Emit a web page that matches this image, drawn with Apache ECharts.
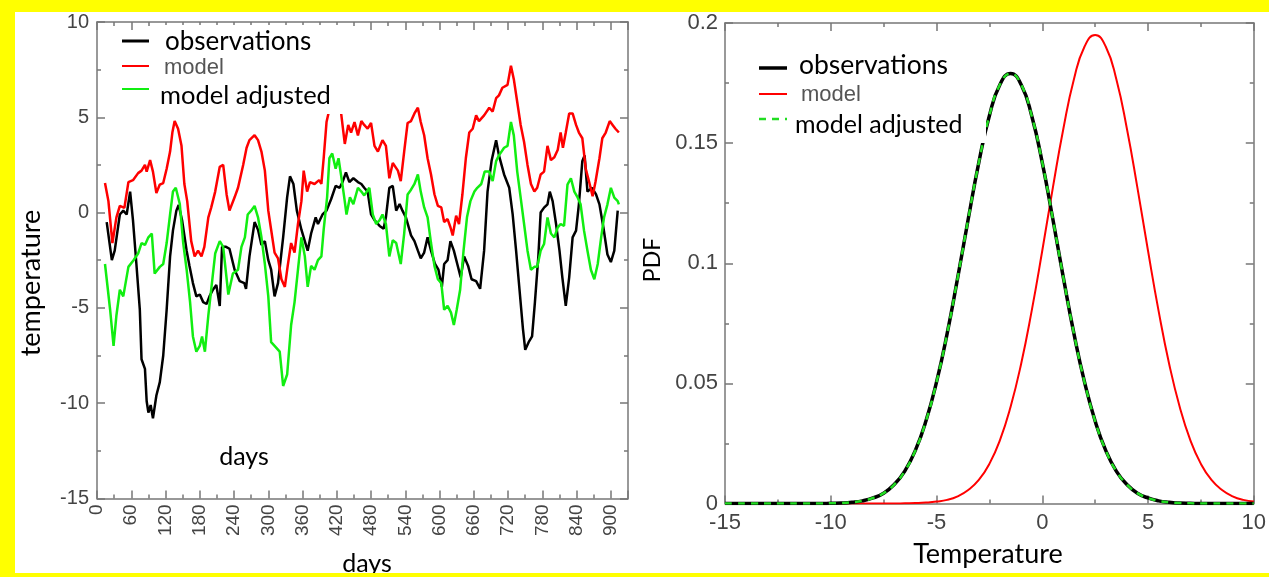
<!DOCTYPE html>
<html>
<head>
<meta charset="utf-8">
<script src="https://cdn.jsdelivr.net/npm/echarts@6/dist/echarts.min.js"></script>
<style>
  html, body { margin: 0; padding: 0; background: #ffff00; }
  #main { position: absolute; left: 15px; top: 12px; width: 1254px; height: 561px; background: #fff; }
</style>
</head>
<body>
<div id="main"></div>
<script>
// left panel: daily temperature, [day, value]
var obsPoints = [[17,-0.5],[26,-2.5],[31,-2.0],[40,-0.1],[46,0.1],[52,-0.1],[58,1.1],[63,-0.4],[69,-2.7],[75,-5.1],[78,-7.7],[84,-8.2],[87,-9.9],[90,-10.5],[94,-10.1],[98,-10.8],[104,-9.6],[110,-8.9],[116,-7.5],[122,-5.1],[128,-2.3],[133,-0.95],[139,0.1],[143,0.4],[149,-0.4],[157,-2.0],[162,-2.8],[168,-3.7],[174,-4.4],[180,-4.3],[186,-4.7],[192,-4.8],[197,-4.4],[203,-4.05],[209,-3.8],[215,-4.9],[219,-1.8],[226,-1.8],[232,-1.9],[241,-3.0],[250,-3.6],[258,-3.7],[261,-4.0],[267,-2.3],[276,-0.5],[282,-0.9],[288,-1.7],[294,-1.5],[300,-2.5],[305,-3.0],[311,-4.4],[317,-3.7],[326,-1.3],[333,0.8],[338,1.9],[344,1.5],[350,0.1],[358,-0.9],[365,-1.6],[369,-2.0],[375,-1.1],[383,-0.25],[387,-0.6],[395,-0.1],[402,0.1],[410,0.7],[418,1.4],[425,1.3],[430,1.6],[436,2.1],[442,1.6],[449,1.8],[457,1.6],[463,1.5],[468,1.3],[474,1.1],[480,-0.1],[486,-0.4],[495,-0.7],[502,-0.85],[506,-0.25],[512,1.3],[518,1.4],[524,0.1],[530,0.45],[535,0.1],[541,-0.25],[550,-1.2],[556,-1.5],[562,-2.0],[567,-2.4],[573,-2.1],[579,-1.3],[585,-2.0],[592,-2.7],[598,-3.0],[604,-3.9],[608,-2.7],[614,-2.5],[619,-1.5],[625,-2.0],[631,-2.7],[637,-3.4],[643,-2.3],[650,-2.8],[656,-3.5],[664,-3.6],[671,-4.0],[678,-2.0],[684,1.1],[691,2.7],[699,3.8],[704,3.0],[713,2.0],[722,1.3],[728,-0.1],[734,-2.0],[740,-4.05],[746,-6.1],[750,-7.2],[756,-6.8],[762,-6.5],[767,-4.7],[773,-2.3],[777,0],[783,0.26],[789,0.43],[793,1.1],[798,0.6],[804,-0.6],[810,-2.0],[815,-3.4],[821,-4.9],[827,-3.4],[833,-1.3],[839,-0.95],[844,0.43],[850,2.7],[854,3.0],[859,1.1],[867,1.3],[874,0.95],[880,0.43],[887,-0.8],[894,-2.2],[900,-2.6],[906,-2.0],[912,0.1]];

var modelPoints = [[14,1.55],[20,0.6],[27,-1.6],[34,-0.25],[40,0.35],[48,0.25],[55,1.6],[63,1.7],[72,2.07],[78,2.2],[84,2.5],[87,2.15],[93,2.75],[98,2.15],[104,1.03],[110,1.47],[116,1.55],[122,2.3],[128,3.2],[132,4.2],[136,4.8],[142,4.4],[148,3.5],[153,1.5],[158,0.6],[165,-1.5],[171,-2.3],[177,-2.0],[183,-2.3],[188,-1.8],[195,-0.25],[200,0.26],[207,1.1],[215,2.4],[221,2.5],[227,0.95],[232,0.1],[241,0.8],[247,1.3],[256,2.5],[262,3.4],[267,3.8],[276,4.06],[282,3.8],[288,3.2],[294,2.2],[300,0.1],[305,-0.9],[311,-2.1],[317,-2.4],[323,-3.5],[329,-3.9],[334,-2.8],[340,-1.6],[346,-2.1],[352,-0.6],[358,0.6],[362,2.2],[368,1.1],[373,1.6],[381,1.5],[389,1.7],[393,1.5],[397,2.85],[402,4.75],[410,5.8],[418,6.3],[426,5.6],[434,3.6],[440,4.6],[445,4.2],[451,4.75],[457,4.05],[463,4.8],[468,4.6],[474,4.4],[480,4.7],[486,3.5],[492,3.2],[500,3.8],[506,3.5],[512,1.8],[518,2.6],[527,2.2],[532,1.65],[538,3.2],[544,4.7],[550,4.8],[556,5.2],[562,5.5],[567,4.75],[573,4.06],[579,2.85],[585,2.0],[591,0.96],[597,0.35],[603,0.27],[608,-0.5],[614,-0.34],[619,-0.77],[623,-1.2],[629,-0.16],[634,-0.6],[640,0.96],[646,2.85],[652,4.2],[658,4.4],[664,5.1],[669,4.8],[678,5.1],[687,5.5],[693,5.3],[699,6.0],[704,6.15],[710,6.55],[719,6.7],[725,7.7],[730,7.0],[736,5.8],[742,4.6],[748,3.7],[754,2.5],[760,1.5],[766,1.1],[771,1.3],[777,2.0],[783,2.15],[789,3.5],[795,2.75],[801,2.9],[807,3.3],[812,4.2],[816,3.4],[821,4.2],[827,5.2],[833,5.2],[839,4.6],[844,4.2],[850,3.9],[856,2.3],[862,1.6],[868,0.86],[873,1.6],[880,2.85],[885,3.9],[891,4.2],[898,4.8],[903,4.6],[908,4.4],[914,4.2]];

var adjPoints = [[14,-2.7],[23,-5.1],[29,-7.0],[34,-5.4],[40,-4.05],[46,-4.4],[55,-2.85],[64,-2.5],[72,-2.15],[78,-1.6],[84,-1.7],[90,-1.3],[96,-1.1],[101,-3.2],[110,-2.85],[116,-2.7],[122,-1.6],[128,-0.1],[133,1.1],[138,1.3],[145,0.45],[151,-1.6],[157,-3.0],[163,-4.7],[168,-6.5],[174,-7.3],[180,-7.0],[184,-6.5],[189,-7.3],[195,-5.4],[200,-4.05],[207,-2.15],[215,-1.5],[221,-1.8],[230,-4.3],[238,-3.2],[247,-3.0],[253,-1.8],[259,-1.3],[264,-0.1],[270,0.1],[276,0.35],[282,-0.25],[288,-1.3],[294,-2.7],[300,-4.4],[305,-6.8],[311,-7.0],[320,-7.3],[326,-9.1],[333,-8.5],[340,-5.9],[346,-4.7],[352,-3.0],[358,-1.3],[364,-2.3],[369,-3.9],[375,-2.8],[381,-3.0],[387,-2.5],[393,-2.3],[397,-0.9],[403,0.8],[407,2.85],[412,3.1],[418,2.3],[423,2.85],[429,1.65],[433,0.8],[437,-0.1],[443,0.8],[449,0.44],[457,1.3],[463,1.1],[468,0.9],[477,1.3],[483,-0.1],[489,-0.6],[495,-0.4],[500,-0.1],[506,-0.6],[512,-2.3],[518,-1.45],[524,-1.6],[532,-2.7],[538,-1.1],[544,0.95],[550,1.2],[556,1.5],[562,2.0],[567,1.1],[573,0.27],[579,-0.25],[585,-1.6],[591,-2.8],[597,-3.5],[603,-3.7],[608,-5.1],[614,-4.9],[620,-5.25],[625,-5.9],[630,-5.1],[636,-4.05],[642,-2.0],[648,-0.25],[654,0.6],[661,1.1],[666,1.3],[673,1.5],[679,2.15],[687,2.15],[693,1.65],[699,2.7],[704,3.0],[713,3.4],[719,3.5],[725,4.75],[730,4.05],[736,2.15],[742,0.78],[748,-0.6],[754,-2.0],[760,-3.0],[766,-2.85],[771,-2.85],[777,-2.0],[783,-1.65],[789,-0.26],[795,-1.1],[801,-1.3],[807,-0.78],[812,-0.6],[818,-0.7],[824,1.47],[830,1.8],[836,1.1],[842,0.78],[847,0.43],[853,-0.95],[859,-2.0],[865,-3.0],[871,-3.5],[877,-2.7],[883,-1.3],[888,-0.26],[894,0.43],[900,1.3],[906,0.78],[912,0.6],[914,0.43]];

// right panel: PDF read every 0.5 degree
var pdfTemp = [-15,-14.5,-14,-13.5,-13,-12.5,-12,-11.5,-11,-10.5,-10,-9.5,-9,-8.5,-8,-7.5,-7,-6.5,-6,-5.5,-5,-4.5,-4,-3.5,-3,-2.5,-2,-1.5,-1,-0.5,0,0.5,1,1.5,2,2.5,3,3.5,4,4.5,5,5.5,6,6.5,7,7.5,8,8.5,9,9.5,10];
var obsPdf = [0,0,0,0,0,0,0,0,0,0,0.0001,0.0002,0.0005,0.0011,0.0023,0.0043,0.0079,0.0135,0.0221,0.0343,0.0505,0.0706,0.0939,0.1184,0.1419,0.1614,0.1744,0.179,0.1744,0.1614,0.1419,0.1184,0.0939,0.0706,0.0505,0.0343,0.0221,0.0135,0.0079,0.0043,0.0023,0.0011,0.0005,0.0002,0.0001,0,0,0,0,0,0];
var modelPdf = [0,0,0,0,0,0,0,0,0,0,0,0,0,0,0,0,0,0.0001,0.0002,0.0004,0.0008,0.0015,0.003,0.0056,0.0098,0.0165,0.0264,0.0402,0.0581,0.0802,0.1052,0.1314,0.1561,0.1767,0.1902,0.195,0.1902,0.1767,0.1561,0.1314,0.1052,0.0802,0.0581,0.0402,0.0264,0.0165,0.0098,0.0056,0.003,0.0015,0.0008];
var adjPdf = [0,0,0,0,0,0,0,0,0,0,0.0001,0.0002,0.0005,0.0011,0.0023,0.0043,0.0079,0.0135,0.0221,0.0343,0.0505,0.0706,0.0939,0.1184,0.1419,0.1614,0.1744,0.179,0.1744,0.1614,0.1419,0.1184,0.0939,0.0706,0.0505,0.0343,0.0221,0.0135,0.0079,0.0043,0.0023,0.0011,0.0005,0.0002,0.0001,0,0,0,0,0,0];

function pairs(xs, ys) {
  return xs.map(function (x, i) { return [x, ys[i]]; });
}

var frameColor = '#777';
function axisBase(extra) {
  var a = {
    type: 'value',
    axisLine: { show: true, onZero: false, lineStyle: { color: frameColor, width: 1.5 } },
    axisTick: { show: true, inside: true, length: 8, lineStyle: { color: frameColor, width: 1.5 } },
    minorTick: { show: true, splitNumber: 2, length: 4, lineStyle: { color: frameColor, width: 1.5 } },
    splitLine: { show: false },
    minorSplitLine: { show: false },
    axisLabel: { show: false }
  };
  for (var k in extra) a[k] = extra[k];
  return a;
}
var labelFont = 'Liberation Sans';

var chart = echarts.init(document.getElementById('main'));

var option = {
  animation: false,
  grid: [
    { left: 82, top: 3.4, width: 531, height: 483 },
    { left: 710, top: 4.5, width: 533, height: 487 }
  ],
  xAxis: [
    axisBase({ gridIndex: 0, position: 'bottom', min: 0, max: 930, interval: 60,
      axisLabel: { show: true, rotate: 90, margin: 6, fontSize: 19, fontFamily: labelFont, color: '#444', showMaxLabel: false } }),
    axisBase({ gridIndex: 0, position: 'top', min: 0, max: 930, interval: 60 }),
    axisBase({ gridIndex: 1, position: 'bottom', min: -15, max: 10, interval: 5,
      axisLabel: { show: true, margin: 8, fontSize: 22, fontFamily: labelFont, color: '#444' } }),
    axisBase({ gridIndex: 1, position: 'top', min: -15, max: 10, interval: 5 })
  ],
  yAxis: [
    axisBase({ gridIndex: 0, position: 'left', min: -15, max: 10, interval: 5,
      axisLabel: { show: true, margin: 8, fontSize: 20, fontFamily: labelFont, color: '#444' } }),
    axisBase({ gridIndex: 0, position: 'right', min: -15, max: 10, interval: 5 }),
    axisBase({ gridIndex: 1, position: 'left', min: 0, max: 0.2, interval: 0.05,
      axisLabel: { show: true, margin: 7, fontSize: 22, fontFamily: labelFont, color: '#444' } }),
    axisBase({ gridIndex: 1, position: 'right', min: 0, max: 0.2, interval: 0.05 })
  ],
  series: [
    { name: 'observations', type: 'line', xAxisIndex: 0, yAxisIndex: 0, data: obsPoints,
      symbol: 'none', lineStyle: { color: '#000', width: 2.5 } },
    { name: 'model', type: 'line', xAxisIndex: 0, yAxisIndex: 0, data: modelPoints,
      symbol: 'none', lineStyle: { color: '#ff0000', width: 2.5 } },
    { name: 'model adjusted', type: 'line', xAxisIndex: 0, yAxisIndex: 0, data: adjPoints,
      symbol: 'none', lineStyle: { color: '#11ee11', width: 2.5 } },
    { name: 'model pdf', type: 'line', xAxisIndex: 2, yAxisIndex: 2, data: pairs(pdfTemp, modelPdf),
      symbol: 'none', smooth: true, lineStyle: { color: '#ff0000', width: 2 } },
    { name: 'observations pdf', type: 'line', xAxisIndex: 2, yAxisIndex: 2, data: pairs(pdfTemp, obsPdf),
      symbol: 'none', smooth: true, lineStyle: { color: '#000', width: 3.5 } },
    { name: 'adjusted pdf', type: 'line', xAxisIndex: 2, yAxisIndex: 2, data: pairs(pdfTemp, adjPdf),
      symbol: 'none', smooth: true, lineStyle: { color: '#22dd22', width: 2.5, type: [7, 6] } }
  ],
  graphic: [
    // white boxes behind pasted legend text
    { type: 'rect', z: 50, shape: { x: 142, y: 13, width: 188, height: 89 }, style: { fill: '#fff' } },
    { type: 'rect', z: 50, shape: { x: 775, y: 38, width: 196, height: 93 }, style: { fill: '#fff' } },

    // left legend
    { type: 'line', z: 60, shape: { x1: 107, y1: 29, x2: 134, y2: 29 }, style: { stroke: '#000', lineWidth: 3 } },
    { type: 'line', z: 60, shape: { x1: 107, y1: 54, x2: 134, y2: 54 }, style: { stroke: '#ff0000', lineWidth: 2 } },
    { type: 'line', z: 60, shape: { x1: 107, y1: 77, x2: 134, y2: 77 }, style: { stroke: '#11ee11', lineWidth: 2 } },
    { type: 'text', z: 60, x: 150, y: 30, style: { text: 'observations', fontSize: 26, fontFamily: 'Lato', fill: '#000', align: 'left', verticalAlign: 'middle' } },
    { type: 'text', z: 60, x: 149, y: 56, style: { text: 'model', fontSize: 22, fontFamily: labelFont, fill: '#555', align: 'left', verticalAlign: 'middle' } },
    { type: 'text', z: 60, x: 145, y: 84, style: { text: 'model adjusted', fontSize: 25.5, fontFamily: 'Lato', fill: '#000', align: 'left', verticalAlign: 'middle' } },
    { type: 'text', z: 60, x: 16, y: 271, rotation: Math.PI / 2, style: { text: 'temperature', fontSize: 27, fontFamily: 'Lato', fill: '#000', align: 'center', verticalAlign: 'middle' } },
    { type: 'text', z: 60, x: 229, y: 445, style: { text: 'days', fontSize: 25, fontFamily: 'Lato', fill: '#000', align: 'center', verticalAlign: 'middle' } },
    { type: 'text', z: 60, x: 352, y: 552, style: { text: 'days', fontSize: 25, fontFamily: 'Lato', fill: '#000', align: 'center', verticalAlign: 'middle' } },

    // right legend
    { type: 'line', z: 60, shape: { x1: 744, y1: 56, x2: 772, y2: 56 }, style: { stroke: '#000', lineWidth: 3.5 } },
    { type: 'line', z: 60, shape: { x1: 744, y1: 82, x2: 772, y2: 82 }, style: { stroke: '#ff0000', lineWidth: 2 } },
    { type: 'line', z: 60, shape: { x1: 744, y1: 107, x2: 772, y2: 107 }, style: { stroke: '#22dd22', lineWidth: 2.5, lineDash: [7, 6] } },
    { type: 'text', z: 60, x: 784, y: 53, style: { text: 'observations', fontSize: 26.5, fontFamily: 'Lato', fill: '#000', align: 'left', verticalAlign: 'middle' } },
    { type: 'text', z: 60, x: 786, y: 83, style: { text: 'model', fontSize: 22, fontFamily: labelFont, fill: '#555', align: 'left', verticalAlign: 'middle' } },
    { type: 'text', z: 60, x: 780, y: 113, style: { text: 'model adjusted', fontSize: 25, fontFamily: 'Lato', fill: '#000', align: 'left', verticalAlign: 'middle' } },
    { type: 'text', z: 60, x: 638, y: 248, rotation: Math.PI / 2, style: { text: 'PDF', fontSize: 23, fontFamily: 'Lato', fill: '#000', align: 'center', verticalAlign: 'middle' } },
    { type: 'text', z: 60, x: 973, y: 542, style: { text: 'Temperature', fontSize: 27, fontFamily: 'Lato', fill: '#000', align: 'center', verticalAlign: 'middle' } }
  ]
};

option && chart.setOption(option);
</script>
</body>
</html>
